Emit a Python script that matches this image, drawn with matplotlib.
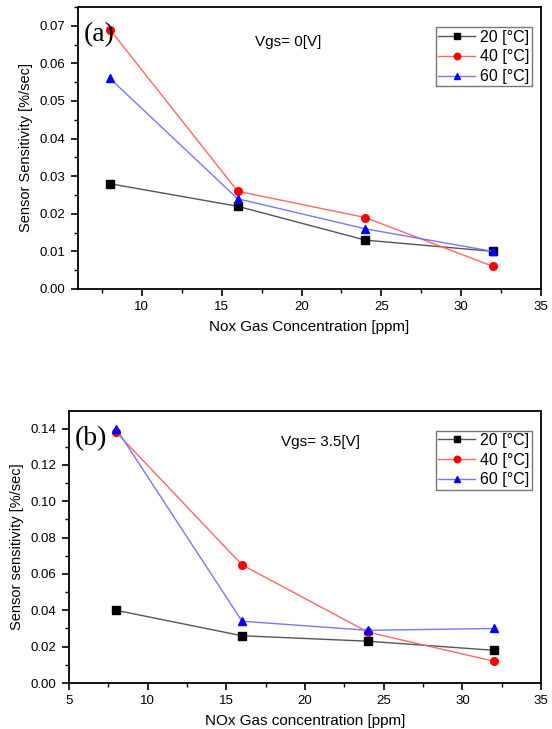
import numpy as np
import matplotlib.pyplot as plt
from matplotlib.ticker import MultipleLocator

plt.rcParams['font.family'] = ['Liberation Sans', 'DejaVu Sans']

#data
conc = [8, 16, 24, 32]
temps = ['20 [°C]', '40 [°C]', '60 [°C]']

#(a) Vgs=0V
a_20 = [0.028, 0.022, 0.013, 0.010]
a_40 = [0.069, 0.026, 0.019, 0.006]
a_60 = [0.056, 0.024, 0.016, 0.010]

#(b) Vgs=3.5V
b_20 = [0.040, 0.026, 0.023, 0.018]
b_40 = [0.138, 0.065, 0.028, 0.012]
b_60 = [0.140, 0.034, 0.029, 0.030]

styles = [('s', 'black', '#555555'), ('o', 'red', '#ff6666'), ('^', 'blue', '#7777ff')]

W, H = 552, 729
fig = plt.figure(figsize=(W/100., H/100.), dpi=100)

def _ax(l, r, t, b):
    return fig.add_axes([l/W, 1-b/H, (r-l)/W, (b-t)/H])

def _panel(ax, series, xlim, ylim, yminor, tag, vgs, vgs_x, vgs_y, ylab, xlab):
    for vals, lab, (m, mc, lc) in zip(series, temps, styles):
        ax.plot(conc, vals, color=lc, lw=1.0, marker=m, ms=5.5,
                mfc=mc, mec=mc, label=lab)
    ax.set_xlim(*xlim)
    ax.set_ylim(*ylim)
    ax.xaxis.set_major_locator(MultipleLocator(5))
    ax.xaxis.set_minor_locator(MultipleLocator(2.5))
    ax.yaxis.set_major_locator(MultipleLocator(yminor*2))
    ax.yaxis.set_minor_locator(MultipleLocator(yminor))
    ax.tick_params(which='major', direction='out', length=5, width=1.2,
                   labelsize=9.5, pad=4)
    ax.tick_params(which='minor', direction='out', length=3, width=1.0)
    for s in ax.spines.values():
        s.set_linewidth(1.3)
    ax.yaxis.set_major_formatter(plt.FormatStrFormatter('%.2f'))
    ax.set_ylabel(ylab, fontsize=10.5, labelpad=5)
    ax.set_xlabel(xlab, fontsize=11, labelpad=5)
    ax.text(0.012, 0.945, tag, transform=ax.transAxes, fontsize=20,
            family='Liberation Serif', va='top', ha='left')
    ax.text(vgs_x, vgs_y, vgs, transform=ax.transAxes, fontsize=11, va='center')
    leg = ax.legend(loc='upper right', bbox_to_anchor=(0.987, 0.94),
                    fontsize=11.5, frameon=True, fancybox=False,
                    handlelength=2.3, handletextpad=0.3, borderpad=0.15,
                    labelspacing=0.3, borderaxespad=0.2, markerscale=0.85)
    leg.get_frame().set_edgecolor('#555555')
    leg.get_frame().set_linewidth(1.0)

ax1 = _ax(78, 541, 7, 289)
_panel(ax1, [a_20, a_40, a_60], (6, 35), (0, 0.075), 0.005, '(a)',
       'Vgs= 0[V]', 0.383, 0.876, 'Sensor Sensitivity [%/sec]',
       'Nox Gas Concentration [ppm]')

ax2 = _ax(69, 541, 411, 683)
_panel(ax2, [b_20, b_40, b_60], (5, 35), (0, 0.1497), 0.01, '(b)',
       'Vgs= 3.5[V]', 0.45, 0.886, 'Sensor sensitivity [%/sec]',
       'NOx Gas concentration [ppm]')

plt.savefig('out.png', dpi=100)
